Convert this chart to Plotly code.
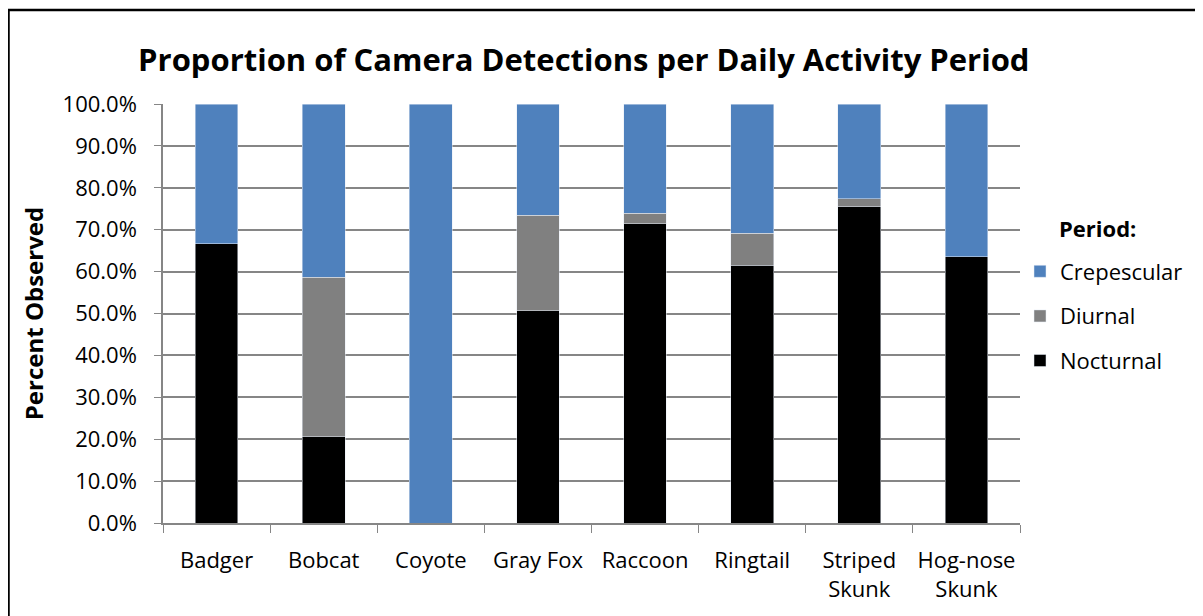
import plotly.graph_objects as go

species = ["Badger", "Bobcat", "Coyote", "Gray Fox", "Raccoon", "Ringtail",
           "Striped<br>Skunk", "Hog-nose<br>Skunk"]
nocturnal = [0.667, 0.206, 0.0, 0.506, 0.714, 0.615, 0.755, 0.636]
diurnal = [0.0, 0.381, 0.0, 0.229, 0.025, 0.077, 0.019, 0.0]
crepescular = [0.333, 0.413, 1.0, 0.265, 0.261, 0.308, 0.226, 0.364]

FONT = "'Open Sans', Lato, sans-serif"

# the page puts the figure 8px in from the top-left, so margins are trimmed by 8
L, R, T, B = 155, 191, 96, 101
PLOT_W = 1203 - L - R
PLOT_H = 616 - T - B


def px_x(fx):
    return (fx - L) / PLOT_W


def px_y(fy):
    return (616 - B - fy) / PLOT_H


fig = go.Figure()
for name, values, color, rank in [
    ("Nocturnal", nocturnal, "#000000", 3),
    ("Diurnal", diurnal, "#808080", 2),
    ("Crepescular", crepescular, "#4f81bd", 1),
]:
    fig.add_trace(
        go.Bar(
            x=species,
            y=values,
            name=name,
            legendgroup=name,
            legendrank=rank,
            marker={"color": color},
        )
    )

# outer chart frame
fig.add_shape(
    type="rect", xref="paper", yref="paper",
    x0=px_x(0.5), x1=px_x(1193), y0=px_y(640), y1=px_y(2),
    line={"color": "black", "width": 2.5}, layer="above",
)

# legend heading, placed by hand to sit apart from the entries
fig.add_annotation(
    text="<b>Period:</b>", xref="paper", yref="paper",
    x=px_x(1049), y=px_y(220), xanchor="left", yanchor="middle",
    showarrow=False, font={"size": 22},
)

fig.update_layout(
    barmode="stack",
    bargap=0.6,
    width=1203,
    height=616,
    paper_bgcolor="white",
    plot_bgcolor="white",
    font={"family": FONT, "color": "#000000", "size": 20},
    title={
        "text": "<b>Proportion of Camera Detections per Daily Activity Period</b>",
        "font": {"size": 31, "family": FONT},
        "x": 0.491, "xref": "paper", "xanchor": "center",
        "y": 1 - 52 / 616, "yanchor": "middle",
    },
    margin={"l": L, "r": R, "t": T, "b": B, "autoexpand": False},
    legend={
        "traceorder": "grouped",
        "tracegroupgap": 13,
        "x": px_x(1012), "xanchor": "left",
        "y": px_y(308), "yanchor": "middle",
        "font": {"size": 22},
        "itemwidth": 30,
    },
    xaxis={
        "showline": True, "linecolor": "#868686", "linewidth": 1.5,
        "ticks": "outside", "tickson": "boundaries", "ticklen": 8,
        "tickcolor": "#868686", "tickfont": {"size": 22},
        "tickangle": 0, "automargin": False,
        "ticklabelstandoff": 17,
    },
    yaxis={
        "range": [0, 1],
        "dtick": 0.1,
        "tickformat": ".1%",
        "showgrid": True, "gridcolor": "#868686", "gridwidth": 1.5,
        "showline": True, "linecolor": "#868686", "linewidth": 1.5,
        "ticks": "outside", "ticklen": 7, "tickcolor": "#868686",
        "tickfont": {"size": 22}, "automargin": False,
        "ticklabelstandoff": 13,
        "zeroline": False,
        "title": {"text": "<b>Percent Observed</b>", "font": {"size": 24},
                  "standoff": 12},
    },
)

fig.write_html("out.html")
